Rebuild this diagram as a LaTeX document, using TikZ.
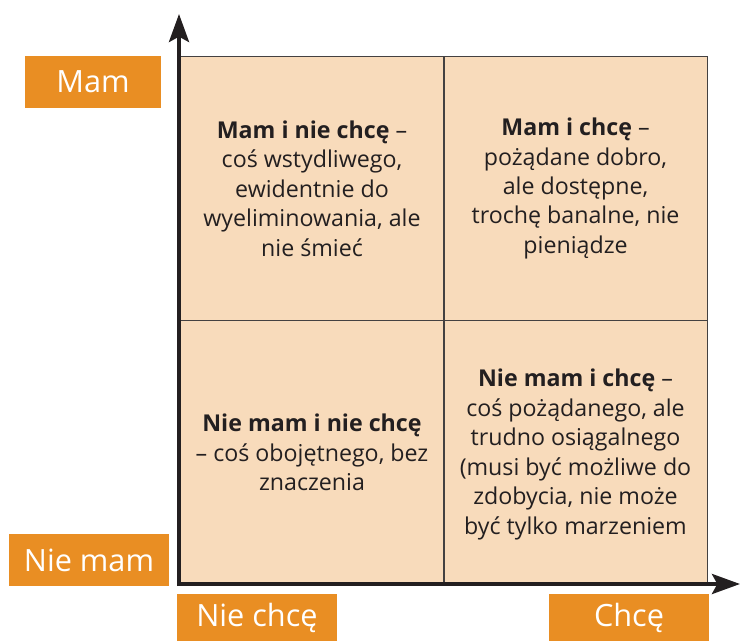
\documentclass[tikz,border=0pt]{standalone}
\usepackage{fontspec}
\setmainfont{Open Sans}
\usetikzlibrary{arrows.meta}
\definecolor{pomarancz}{HTML}{E98E23}
\definecolor{bez}{HTML}{F8DBBB}
\definecolor{ciemny}{HTML}{231F20}

\begin{document}
\begin{tikzpicture}[x=0.75pt,y=-0.75pt,
    etykieta/.style={fill=pomarancz,text=white,inner sep=0pt,
      font=\fontsize{23}{27}\selectfont},
    pole/.style={fill=bez,draw=ciemny!85,line width=1.1pt,
      minimum width=197.6pt,minimum height=198pt},
    opis/.style={align=center,text=ciemny,
      font=\fontsize{17.4}{22.1}\selectfont},
    os/.style={draw=ciemny,line width=3pt,
      -{Stealth[length=21pt,width=15pt,inset=4pt]}}]
\useasboundingbox (0,0) rectangle (741,641);

% cwiartki
\node[pole] (mamnie) at (312,188.5) {};
\node[pole] (mamtak) at (575.5,188.5) {};
\node[pole] (brakNie) at (312,452.5) {};
\node[pole] (brakTak) at (575.5,452.5) {};
\node[opis] at (mamnie) {\textbf{Mam i nie chcę} –\\coś wstydliwego,\\ewidentnie do\\wyeliminowania, ale\\nie śmieć};
\node[opis] at (mamtak) {\textbf{Mam i chcę} –\\pożądane dobro,\\ale dostępne,\\trochę banalne, nie\\pieniądze};
\node[opis] at (brakNie) {\textbf{Nie mam i nie chcę}\\– coś obojętnego, bez\\znaczenia};
\node[opis] at ([yshift=-1.5pt]brakTak) {\textbf{Nie mam i chcę} –\\coś pożądanego, ale\\trudno osiągalnego\\(musi być możliwe do\\zdobycia, nie może\\być tylko marzeniem};

% osie
\coordinate (zero) at (179,584);
\coordinate (gora) at (179,14);
\coordinate (prawo) at (740,584);
\draw[os] ([yshift=-1.5pt]zero) -- (gora);
\draw[os] ([xshift=-1.5pt]zero) -- (prawo);

% etykiety
\node[etykieta,minimum width=102pt,minimum height=39pt] (mam) at (93,82) {Mam};
\node[etykieta,minimum width=120pt,minimum height=39pt] (niemam) at (89,560) {Nie mam};
\node[etykieta,minimum width=120pt,minimum height=35.25pt] (niechce) at (257,617.5) {Nie chcę};
\node[etykieta,minimum width=120pt,minimum height=35.25pt] (chce) at (629,617.5) {Chcę};
\end{tikzpicture}
\end{document}
